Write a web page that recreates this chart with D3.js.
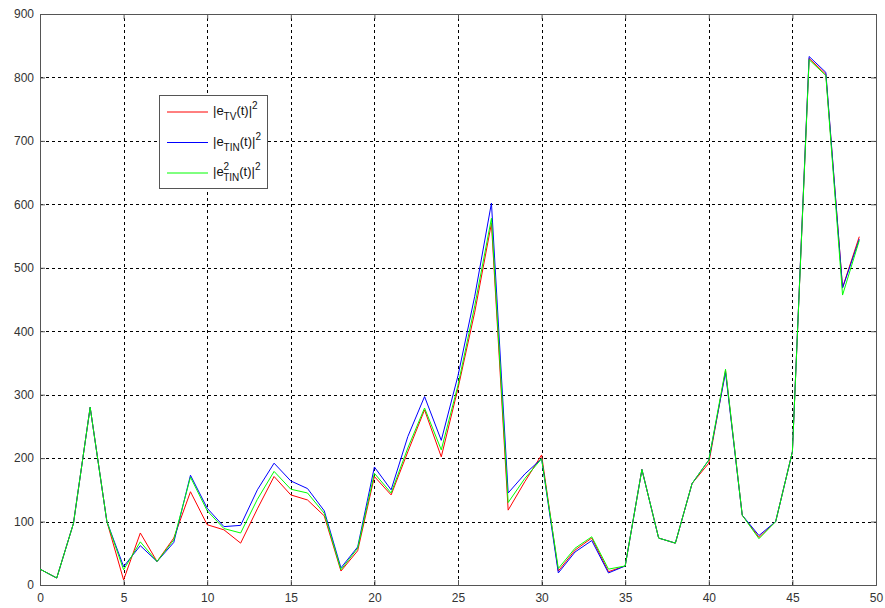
<!DOCTYPE html>
<html lang="en">
<head>
    <meta charset="UTF-8">
    <title>Error curves</title>
    <script src="https://d3js.org/d3.v7.min.js"></script>
    <style>
        body { margin: 0; background: #fff; }
        svg text { font-family: "Liberation Sans", Arial, sans-serif; }
        .tick text { font-size: 12px; fill: #333; }
    </style>
</head>
<body>
    <div id="chart"></div>
    <script>
        // data
        const xValues = d3.range(0, 50);
        const eTV = [25, 11, 97, 280, 100, 8, 82, 37, 74, 147, 95, 87, 66, 120, 171, 142, 134, 109, 22, 54,
            171, 142, 210, 276, 202, 310, 430, 570, 118, 163, 205, 22, 55, 74, 21, 30, 182, 74, 66, 160,
            192, 338, 110, 75, 100, 210, 830, 805, 469, 549];
        const eTIN = [25, 11, 97, 280, 100, 29, 62, 37, 67, 173, 121, 92, 94, 150, 192, 164, 152, 117, 27, 60,
            186, 150, 234, 297, 228, 330, 455, 602, 145, 175, 199, 19, 52, 70, 19, 30, 182, 74, 66, 160,
            197, 335, 110, 78, 100, 210, 833, 808, 468, 545];
        const eTIN2 = [25, 11, 97, 280, 100, 24, 68, 37, 71, 170, 117, 89, 82, 135, 179, 151, 145, 113, 24, 58,
            176, 145, 216, 279, 213, 315, 440, 578, 130, 168, 199, 26, 58, 76, 25, 30, 182, 74, 66, 160,
            197, 340, 110, 73, 100, 210, 828, 803, 457, 543];
        const xTicks = [0, 5, 10, 15, 20, 25, 30, 35, 40, 45, 50];
        const yTicks = [0, 100, 200, 300, 400, 500, 600, 700, 800, 900];

        const width = 885, height = 608;
        const margin = { left: 40, right: 9, top: 14, bottom: 23 };
        const svg = d3.select('#chart').append('svg')
            .attr('width', width)
            .attr('height', height);

        const x = d3.scaleLinear().domain([0, 50]).range([margin.left, width - margin.right]);
        const y = d3.scaleLinear().domain([0, 900]).range([height - margin.bottom, margin.top]);

        // grid
        svg.append('g').selectAll('line')
            .data(xTicks.slice(1, -1))
            .join('line')
            .attr('x1', d => Math.round(x(d)) + 0.5).attr('x2', d => Math.round(x(d)) + 0.5)
            .attr('y1', y(0)).attr('y2', y(900))
            .attr('stroke', '#000').attr('stroke-dasharray', '3,3');
        svg.append('g').selectAll('line')
            .data(yTicks.slice(1, -1))
            .join('line')
            .attr('y1', d => Math.round(y(d)) + 0.5).attr('y2', d => Math.round(y(d)) + 0.5)
            .attr('x1', x(0)).attr('x2', x(50))
            .attr('stroke', '#000').attr('stroke-dasharray', '3,3');

        // axes
        svg.append('g')
            .attr('transform', `translate(0,${y(0)})`)
            .call(d3.axisBottom(x).tickValues(xTicks).tickSize(-5).tickPadding(8));
        svg.append('g')
            .attr('transform', `translate(${x(0)},0)`)
            .call(d3.axisLeft(y).tickValues(yTicks).tickSize(-5).tickPadding(6));
        svg.append('g')
            .attr('transform', `translate(0,${y(900)})`)
            .call(d3.axisTop(x).tickValues(xTicks).tickSize(-5).tickFormat(''));
        svg.append('g')
            .attr('transform', `translate(${x(50)},0)`)
            .call(d3.axisRight(y).tickValues(yTicks).tickSize(-5).tickFormat(''));
        svg.selectAll('.domain').attr('stroke', '#555');
        svg.selectAll('.tick line').attr('stroke', '#555');

        // lines
        const line = d3.line().x((d, i) => x(xValues[i])).y(d => y(d));
        const series = [
            { values: eTV, color: '#ff0000' },
            { values: eTIN, color: '#0000ff' },
            { values: eTIN2, color: '#00ff00' }
        ];
        svg.append('g').selectAll('path')
            .data(series)
            .join('path')
            .attr('d', d => line(d.values))
            .attr('fill', 'none')
            .attr('stroke', d => d.color)
            .attr('stroke-width', 1);

        // legend
        const lg = svg.append('g');
        lg.append('rect')
            .attr('x', 159.5).attr('y', 95.5)
            .attr('width', 108).attr('height', 93)
            .attr('fill', '#fff').attr('stroke', '#555');
        const rows = [
            { color: '#ff0000', sub: 'TV', sup2: false },
            { color: '#0000ff', sub: 'TIN', sup2: false },
            { color: '#00ff00', sub: 'TIN', sup2: true }
        ];
        rows.forEach((r, i) => {
            const cy = 112 + i * 30.5;
            lg.append('line')
                .attr('x1', 167).attr('x2', 208)
                .attr('y1', cy).attr('y2', cy)
                .attr('stroke', r.color);
            const t = lg.append('text')
                .attr('x', 213).attr('y', cy + 3)
                .attr('font-size', 13).attr('fill', '#111');
            t.append('tspan').text('|e');
            if (r.sup2) {
                t.append('tspan').attr('font-size', 10).attr('dy', -6).text('2');
                t.append('tspan').attr('font-size', 10).attr('dx', -6).attr('dy', 11).text(r.sub);
            } else {
                t.append('tspan').attr('font-size', 10).attr('dy', 5).text(r.sub);
            }
            t.append('tspan').attr('dy', -5).text('(t)|');
            t.append('tspan').attr('font-size', 10).attr('dy', -6).text('2');
        });
    </script>
</body>
</html>
